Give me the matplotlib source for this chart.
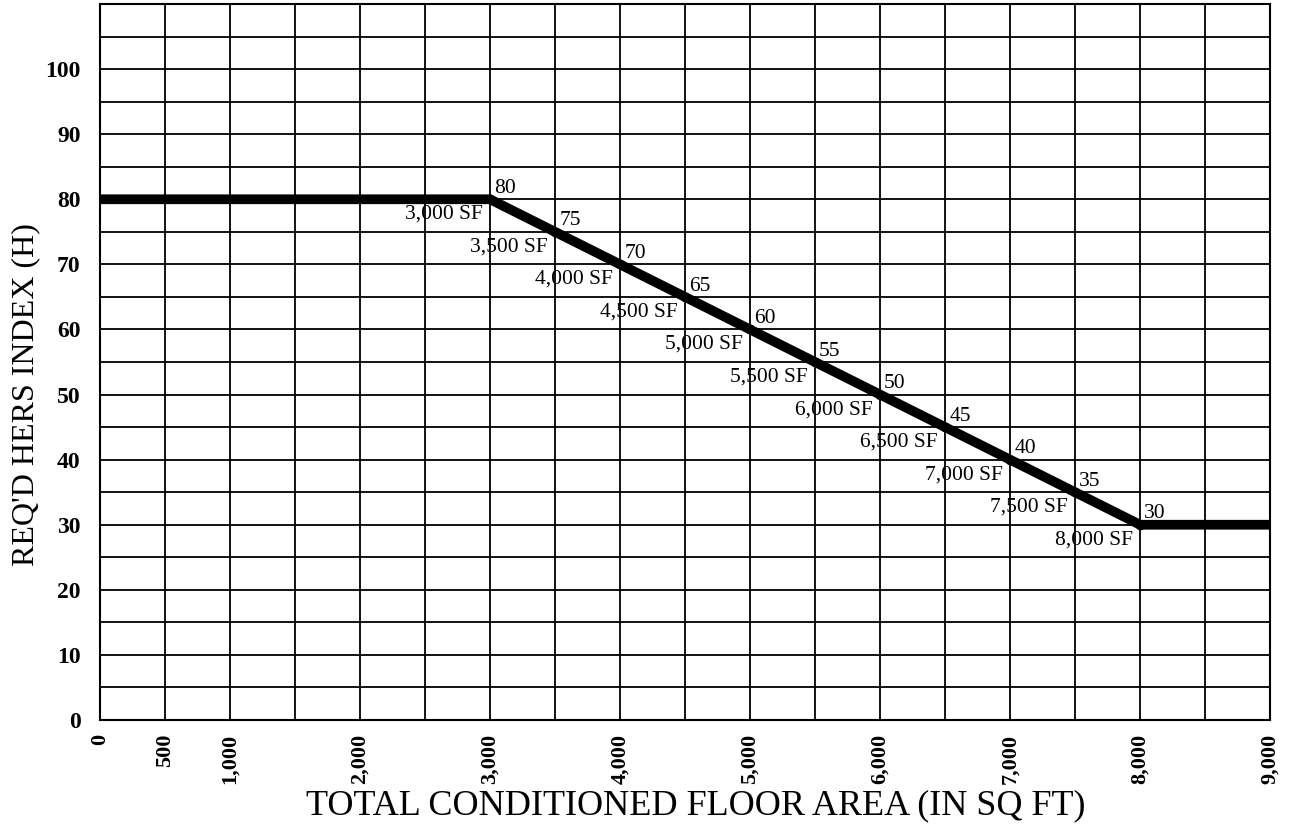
import matplotlib.pyplot as plt
import numpy as np

# Data
area = [0, 3000, 3500, 4000, 4500, 5000, 5500, 6000, 6500, 7000, 7500, 8000, 9000]
hers = [80, 80, 75, 70, 65, 60, 55, 50, 45, 40, 35, 30, 30]
label_area = [3000, 3500, 4000, 4500, 5000, 5500, 6000, 6500, 7000, 7500, 8000]
label_hers = [80, 75, 70, 65, 60, 55, 50, 45, 40, 35, 30]
label_text = ["3,000 SF", "3,500 SF", "4,000 SF", "4,500 SF", "5,000 SF", "5,500 SF",
              "6,000 SF", "6,500 SF", "7,000 SF", "7,500 SF", "8,000 SF"]
xtick_vals = [0, 500, 1000, 2000, 3000, 4000, 5000, 6000, 7000, 8000, 9000]
xtick_text = ["0", "500", "1,000", "2,000", "3,000", "4,000", "5,000", "6,000",
              "7,000", "8,000", "9,000"]
ytick_vals = [0, 10, 20, 30, 40, 50, 60, 70, 80, 90, 100]

plt.rcParams["font.family"] = ["Liberation Serif", "DejaVu Serif"]

fig = plt.figure(figsize=(12.95, 8.35), dpi=100)
ax = fig.add_axes([100 / 1295, 115 / 835, 1170 / 1295, 716 / 835])

ax.plot(area, hers, color="black", lw=7, solid_capstyle="butt", zorder=3)
ax.plot(label_area, label_hers, "o", color="black", ms=6, zorder=4)

for xa, yh, txt in zip(label_area, label_hers, label_text):
    ax.annotate(str(yh), (xa, yh), xytext=(3, 1), textcoords="offset points",
                ha="left", va="bottom", fontsize=15.5, zorder=5)
    ax.annotate(txt, (xa, yh), xytext=(-5, -4), textcoords="offset points",
                ha="right", va="top", fontsize=15.5, zorder=5)

ax.set_xlim(0, 9000)
ax.set_ylim(0, 110)

# grid every 500 sq ft and every 5 points
ax.set_xticks(np.arange(0, 9001, 500), minor=True)
ax.set_yticks(np.arange(0, 111, 5), minor=True)
ax.xaxis.remove_overlapping_locs = False
ax.yaxis.remove_overlapping_locs = False
ax.grid(which="minor", color="black", lw=1.3, zorder=1)
ax.tick_params(which="both", length=0)

ax.set_xticks(xtick_vals)
ax.set_xticklabels(xtick_text, rotation=90, fontsize=16, fontweight="bold")
ax.set_yticks(ytick_vals)
ax.set_yticklabels([str(v) for v in ytick_vals], fontsize=17, fontweight="bold")
ax.tick_params(axis="x", pad=10)
ax.tick_params(axis="y", pad=14)

for s in ax.spines.values():
    s.set_color("black")
    s.set_linewidth(1.5)

ax.set_xlabel("TOTAL CONDITIONED FLOOR AREA (IN SQ FT)", fontsize=26)
ax.set_ylabel("REQ'D HERS INDEX (H)", fontsize=23)
ax.xaxis.set_label_coords(0.509, -0.097, transform=ax.transAxes)
ax.yaxis.set_label_coords(-0.051, 0.454, transform=ax.transAxes)

fig.savefig("out.png", dpi=100)
